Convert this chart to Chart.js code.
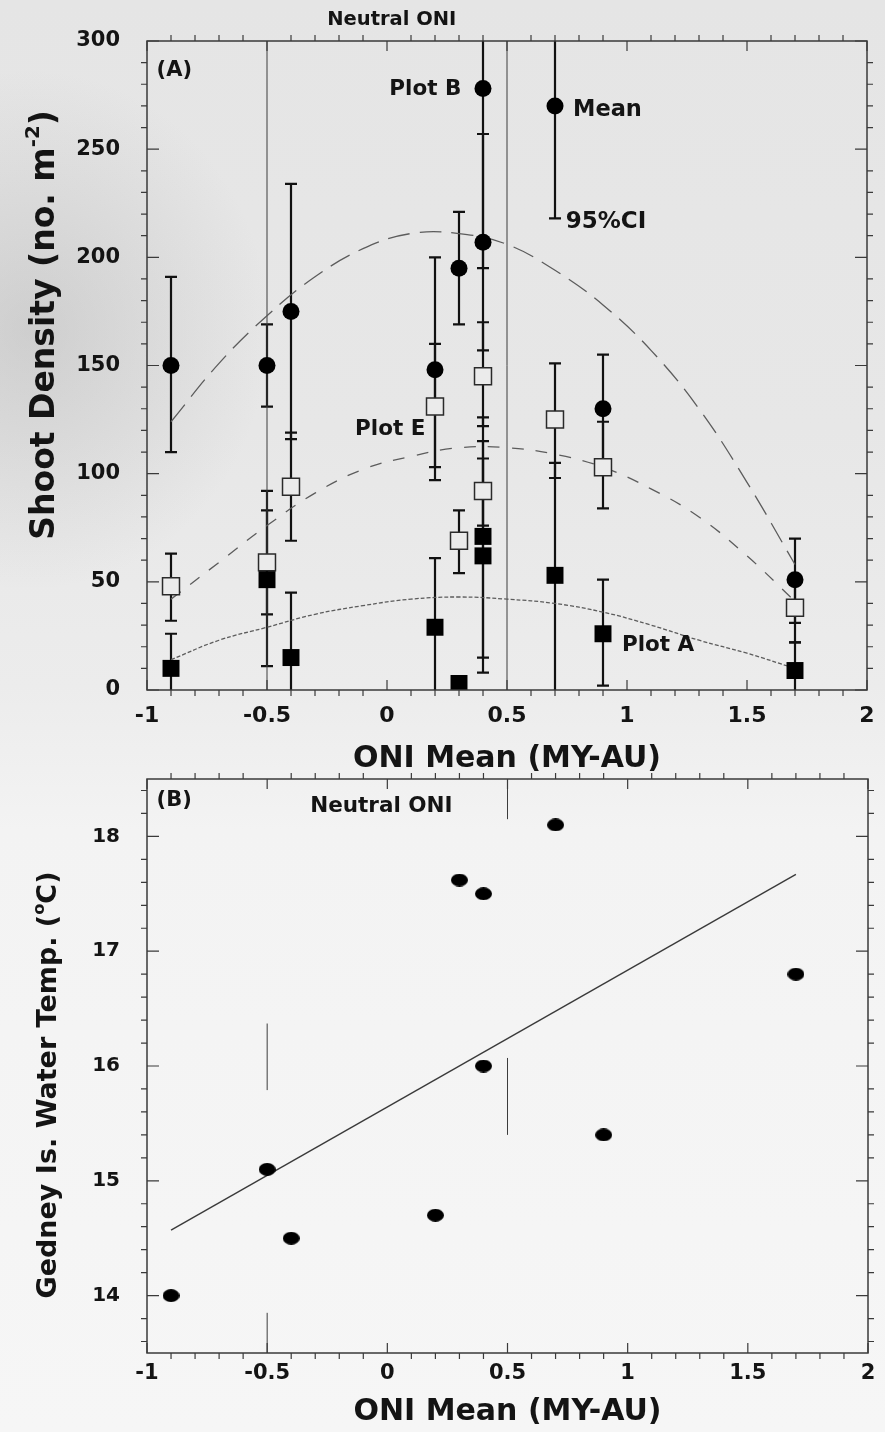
<!DOCTYPE html>
<html>
<head>
<meta charset="utf-8">
<script src="https://cdn.jsdelivr.net/npm/chart.js@4.4.0/dist/chart.umd.min.js"></script>
<style>
html, body { margin: 0; padding: 0; }
body {
  width: 885px; height: 1432px; position: relative; overflow: hidden;
  background:
    radial-gradient(ellipse 240px 260px at 30px 330px, rgba(150,150,150,0.30), rgba(150,150,150,0) 100%),
    linear-gradient(180deg, #e5e5e5 0%, #e7e7e7 30%, #ececec 48%, #f3f3f3 58%, #f6f6f6 100%);
}
#boxA { position: absolute; left: 0; top: 0; }
#boxB { position: absolute; left: 0; top: 770px; }
</style>
</head>
<body>
<canvas id="boxA" width="885" height="774"></canvas>
<canvas id="boxB" width="885" height="662"></canvas>
<script>
// ---- data ----
var xTicks = [-1, -0.5, 0, 0.5, 1, 1.5, 2];
var yTicksA = [0, 50, 100, 150, 200, 250, 300];
var yTicksB = [14, 15, 16, 17, 18];
var neutralONI = [-0.5, 0.5];

// (A) Plot B - filled circles, mean and 95% CI
var plotBx = [-0.9, -0.5, -0.4, 0.2, 0.3, 0.4, 0.4, 0.7, 0.9, 1.7];
var plotBy = [150, 150, 175, 148, 195, 278, 207, 270, 130, 51];
var plotBlo = [110, 131, 116, 97, 169, 195, 157, 218, 104, 31];
var plotBhi = [191, 169, 234, 200, 221, 360, 257, 322, 155, 70];

// (A) Plot E - open squares
var plotEx = [-0.9, -0.5, -0.4, 0.2, 0.3, 0.4, 0.4, 0.7, 0.9, 1.7];
var plotEy = [48, 59, 94, 131, 69, 145, 92, 125, 103, 38];
var plotElo = [32, 35, 69, 103, 54, 122, 76, 98, 84, 22];
var plotEhi = [63, 83, 119, 160, 83, 170, 107, 151, 124, 52];

// (A) Plot A - filled squares
var plotAx = [-0.9, -0.5, -0.4, 0.2, 0.3, 0.4, 0.4, 0.7, 0.9, 1.7];
var plotAy = [10, 51, 15, 29, 3, 71, 62, 53, 26, 9];
var plotAlo = [-6, 11, -15, -3, 0, 15, 8, -1, 2, -4];
var plotAhi = [26, 92, 45, 61, 6, 126, 115, 105, 51, 22];

// fitted curves
var curveX = [-0.9, -0.7, -0.5, -0.3, -0.1, 0.1, 0.3, 0.5, 0.7, 0.9, 1.1, 1.3, 1.5, 1.7];
var curveB = [124, 151, 173, 191, 204, 211, 211, 206, 194, 178, 157, 130, 96, 58];
var curveE = [42, 59, 76, 91, 102, 108, 112, 112, 109, 103, 93, 80, 62, 41];
var curveA = [14, 23, 29, 35, 39, 42, 43, 42, 40, 36, 30, 23, 17, 10];

// (B) water temperature
var tempX = [-0.9, -0.5, -0.4, 0.2, 0.3, 0.4, 0.4, 0.7, 0.9, 1.7];
var tempY = [14.0, 15.1, 14.5, 14.7, 17.62, 17.5, 16.0, 18.1, 15.4, 16.8];
var regX = [-0.9, 1.7];
var regY = [14.57, 17.67];
// broken neutral ONI markers in panel B
var neutralLoB = [15.79, 15.4];
var neutralHiB = [16.37, 16.07];

var FONT = "'DejaVu Sans', sans-serif";
var INK = "#141414";

function pts(xs, ys) {
    return xs.map(function (x, i) { return { x: x, y: ys[i] }; });
}

function tickValues(min, max, step) {
    var out = [];
    var n0 = Math.ceil(min / step - 1e-6), n1 = Math.floor(max / step + 1e-6);
    for (var n = n0; n <= n1; n++) out.push(n * step);
    return out;
}

function isMajor(v, step) {
    return Math.abs(v / step - Math.round(v / step)) < 1e-6;
}

// frame with minor ticks outside, major ticks inside
function makeFrame(xMinor, xMajor, yMinor, yMajor) {
    return {
        id: "frame",
        afterDatasetsDraw: function (chart) {
            var ctx = chart.ctx, a = chart.chartArea, x = chart.scales.x, y = chart.scales.y;
            ctx.save();
            ctx.strokeStyle = "#3a3a3a";
            ctx.lineWidth = 1.5;
            ctx.strokeRect(a.left, a.top, a.right - a.left, a.bottom - a.top);
            ctx.lineWidth = 1.2;
            ctx.beginPath();
            tickValues(x.min, x.max, xMinor).forEach(function (v) {
                var px = x.getPixelForValue(v);
                if (isMajor(v, xMajor)) {
                    ctx.moveTo(px, a.bottom); ctx.lineTo(px, a.bottom - 10);
                    ctx.moveTo(px, a.top); ctx.lineTo(px, a.top + 10);
                } else {
                    ctx.moveTo(px, a.bottom); ctx.lineTo(px, a.bottom + 6);
                    ctx.moveTo(px, a.top); ctx.lineTo(px, a.top - 6);
                }
            });
            tickValues(y.min, y.max, yMinor).forEach(function (v) {
                var py = y.getPixelForValue(v);
                if (isMajor(v, yMajor)) {
                    ctx.moveTo(a.left, py); ctx.lineTo(a.left + 12, py);
                    ctx.moveTo(a.right, py); ctx.lineTo(a.right - 12, py);
                } else {
                    ctx.moveTo(a.left, py); ctx.lineTo(a.left - 6, py);
                    ctx.moveTo(a.right, py); ctx.lineTo(a.right + 6, py);
                }
            });
            ctx.stroke();
            ctx.restore();
        }
    };
}

function makeErrorBars(sets) {
    return {
        id: "errorBars",
        beforeDatasetsDraw: function (chart) {
            var ctx = chart.ctx, a = chart.chartArea, x = chart.scales.x, y = chart.scales.y;
            ctx.save();
            ctx.beginPath();
            ctx.rect(a.left, a.top, a.right - a.left, a.bottom - a.top);
            ctx.clip();
            ctx.strokeStyle = "#111";
            ctx.lineWidth = 2.2;
            sets.forEach(function (s) {
                s.xs.forEach(function (xv, i) {
                    var px = x.getPixelForValue(xv);
                    var p1 = y.getPixelForValue(s.lo[i]), p2 = y.getPixelForValue(s.hi[i]);
                    ctx.beginPath();
                    ctx.moveTo(px, p1); ctx.lineTo(px, p2);
                    ctx.moveTo(px - 6, p1); ctx.lineTo(px + 6, p1);
                    ctx.moveTo(px - 6, p2); ctx.lineTo(px + 6, p2);
                    ctx.stroke();
                });
            });
            ctx.restore();
        }
    };
}

// text notes placed in data units + rotated y title with superscript
function makeNotes(notes, title) {
    return {
        id: "notes",
        afterDraw: function (chart) {
            var ctx = chart.ctx, x = chart.scales.x, y = chart.scales.y;
            ctx.save();
            ctx.fillStyle = INK;
            ctx.textBaseline = "alphabetic";
            notes.forEach(function (n) {
                ctx.font = "bold " + n.size + "px " + FONT;
                ctx.textAlign = n.align;
                ctx.fillText(n.text, x.getPixelForValue(n.x), y.getPixelForValue(n.y) + n.size * 0.36);
            });

            ctx.translate(title.cx, title.cy);
            ctx.rotate(-Math.PI / 2);
            ctx.textAlign = "left";
            var total = 0;
            title.parts.forEach(function (p) {
                ctx.font = "bold " + (p.sup ? title.size * 0.6 : title.size) + "px " + FONT;
                p.w = ctx.measureText(p.t).width;
                total += p.w;
            });
            var cx = -total / 2, base = title.size * 0.36;
            title.parts.forEach(function (p) {
                ctx.font = "bold " + (p.sup ? title.size * 0.6 : title.size) + "px " + FONT;
                ctx.fillText(p.t, cx, p.sup ? base - title.size * 0.45 : base);
                cx += p.w;
            });
            ctx.restore();
        }
    };
}

function xScale(tickSize, tickPad, height, titlePad) {
    return {
        type: "linear", min: -1, max: 2,
        grid: { display: false }, border: { display: false },
        afterBuildTicks: function (s) { s.ticks = xTicks.map(function (v) { return { value: v }; }); },
        afterFit: function (s) {
            s.height = height;
            s.paddingLeft = 0; s.paddingRight = 0;
        },
        ticks: {
            autoSkip: false, maxRotation: 0, padding: tickPad, color: INK,
            font: { family: FONT, size: tickSize, weight: "bold" },
            callback: function (v) { return String(v); }
        },
        title: {
            display: true, text: "ONI Mean (MY-AU)", color: INK,
            font: { family: FONT, size: 30, weight: "bold", lineHeight: 1 },
            padding: { top: 0, bottom: titlePad }
        }
    };
}

function yScale(min, max, list, tickSize) {
    return {
        type: "linear", min: min, max: max,
        grid: { display: false }, border: { display: false },
        afterBuildTicks: function (s) { s.ticks = list.map(function (v) { return { value: v }; }); },
        afterFit: function (s) {
            s.width = 147;
            s.paddingTop = 0; s.paddingBottom = 0;
        },
        ticks: {
            autoSkip: false, padding: 19, color: INK,
            font: { family: FONT, size: tickSize, weight: "bold" },
            callback: function (v) { return String(v); }
        }
    };
}

function curve(ys, dash) {
    return {
        data: pts(curveX, ys), showLine: true, pointRadius: 0, borderColor: "#5c5c5c",
        borderWidth: 1.3, borderDash: dash, tension: 0.4, order: 5
    };
}

function vline(xv, y0, y1) {
    return {
        data: [{ x: xv, y: y0 }, { x: xv, y: y1 }], showLine: true, pointRadius: 0,
        borderColor: "#3c3c3c", borderWidth: 1, order: 6
    };
}

// ---- panel A ----
new Chart(document.getElementById("boxA"), {
    type: "scatter",
    data: {
        datasets: [
            { label: "Plot B", data: pts(plotBx, plotBy), pointStyle: "circle", pointRadius: 8.5,
              backgroundColor: "#000", borderColor: "#000", borderWidth: 0, order: 1 },
            { label: "Plot E", data: pts(plotEx, plotEy), pointStyle: "rect", pointRadius: 12,
              backgroundColor: "#ebebeb", borderColor: "#2a2a2a", borderWidth: 1.5, order: 2 },
            { label: "Plot A", data: pts(plotAx, plotAy), pointStyle: "rect", pointRadius: 12,
              backgroundColor: "#000", borderColor: "#000", borderWidth: 0, order: 1 },
            curve(curveB, [22, 10]),
            curve(curveE, [12, 12]),
            curve(curveA, [4, 2]),
            vline(neutralONI[0], 0, 300),
            vline(neutralONI[1], 0, 300)
        ]
    },
    options: {
        responsive: false, animation: false, events: [],
        layout: { padding: { top: 41, right: 18, bottom: 0, left: 0 } },
        plugins: { legend: { display: false }, tooltip: { enabled: false } },
        scales: { x: xScale(22, 5, 84, 0), y: yScale(0, 300, yTicksA, 21) }
    },
    plugins: [
        makeFrame(0.1, 0.5, 10, 50),
        makeErrorBars([
            { xs: plotBx, lo: plotBlo, hi: plotBhi },
            { xs: plotEx, lo: plotElo, hi: plotEhi },
            { xs: plotAx, lo: plotAlo, hi: plotAhi }
        ]),
        makeNotes([
            { text: "(A)", x: -0.96, y: 287.5, align: "left", size: 21 },
            { text: "Neutral ONI", x: 0.02, y: 310.5, align: "center", size: 19.5 },
            { text: "Plot B", x: 0.31, y: 278.5, align: "right", size: 21.5 },
            { text: "Mean", x: 0.775, y: 269, align: "left", size: 22.5 },
            { text: "95%CI", x: 0.745, y: 217.5, align: "left", size: 23 },
            { text: "Plot E", x: -0.133, y: 121.5, align: "left", size: 21.5 },
            { text: "Plot A", x: 0.979, y: 21.5, align: "left", size: 21.5 }
        ], {
            cx: 42, cy: 325, size: 33,
            parts: [{ t: "Shoot Density (no. m" }, { t: "-2", sup: true }, { t: ")" }]
        })
    ]
});

// ---- panel B ----
function ellipseDot(w, h) {
    var c = document.createElement("canvas");
    c.width = w; c.height = h;
    var g = c.getContext("2d");
    g.fillStyle = "#000";
    g.beginPath();
    g.ellipse(w / 2, h / 2, w / 2, h / 2, 0, 0, Math.PI * 2);
    g.fill();
    return c;
}

new Chart(document.getElementById("boxB"), {
    type: "scatter",
    data: {
        datasets: [
            { label: "Water temp", data: pts(tempX, tempY), pointStyle: ellipseDot(17, 13),
              pointRadius: 8, order: 1 },
            { label: "Fit", data: pts(regX, regY), showLine: true, pointRadius: 0,
              borderColor: "#3a3a3a", borderWidth: 1.4, order: 4 },
            vline(neutralONI[0], neutralLoB[0], neutralHiB[0]),
            vline(neutralONI[0], 13.5, 13.85),
            vline(neutralONI[1], neutralLoB[1], neutralHiB[1]),
            vline(neutralONI[1], 18.15, 18.5)
        ]
    },
    options: {
        responsive: false, animation: false, events: [],
        layout: { padding: { top: 8, right: 17, bottom: 0, left: 0 } },
        plugins: { legend: { display: false }, tooltip: { enabled: false } },
        scales: { x: xScale(21, 0, 79, 5), y: yScale(13.5, 18.5, yTicksB, 20) }
    },
    plugins: [
        makeFrame(0.1, 0.5, 0.2, 1),
        makeNotes([
            { text: "(B)", x: -0.96, y: 18.33, align: "left", size: 21 },
            { text: "Neutral ONI", x: -0.321, y: 18.28, align: "left", size: 21.5 }
        ], {
            cx: 46, cy: 315, size: 27,
            parts: [{ t: "Gedney Is. Water Temp. (" }, { t: "o", sup: true }, { t: "C)" }]
        })
    ]
});
</script>
</body>
</html>
